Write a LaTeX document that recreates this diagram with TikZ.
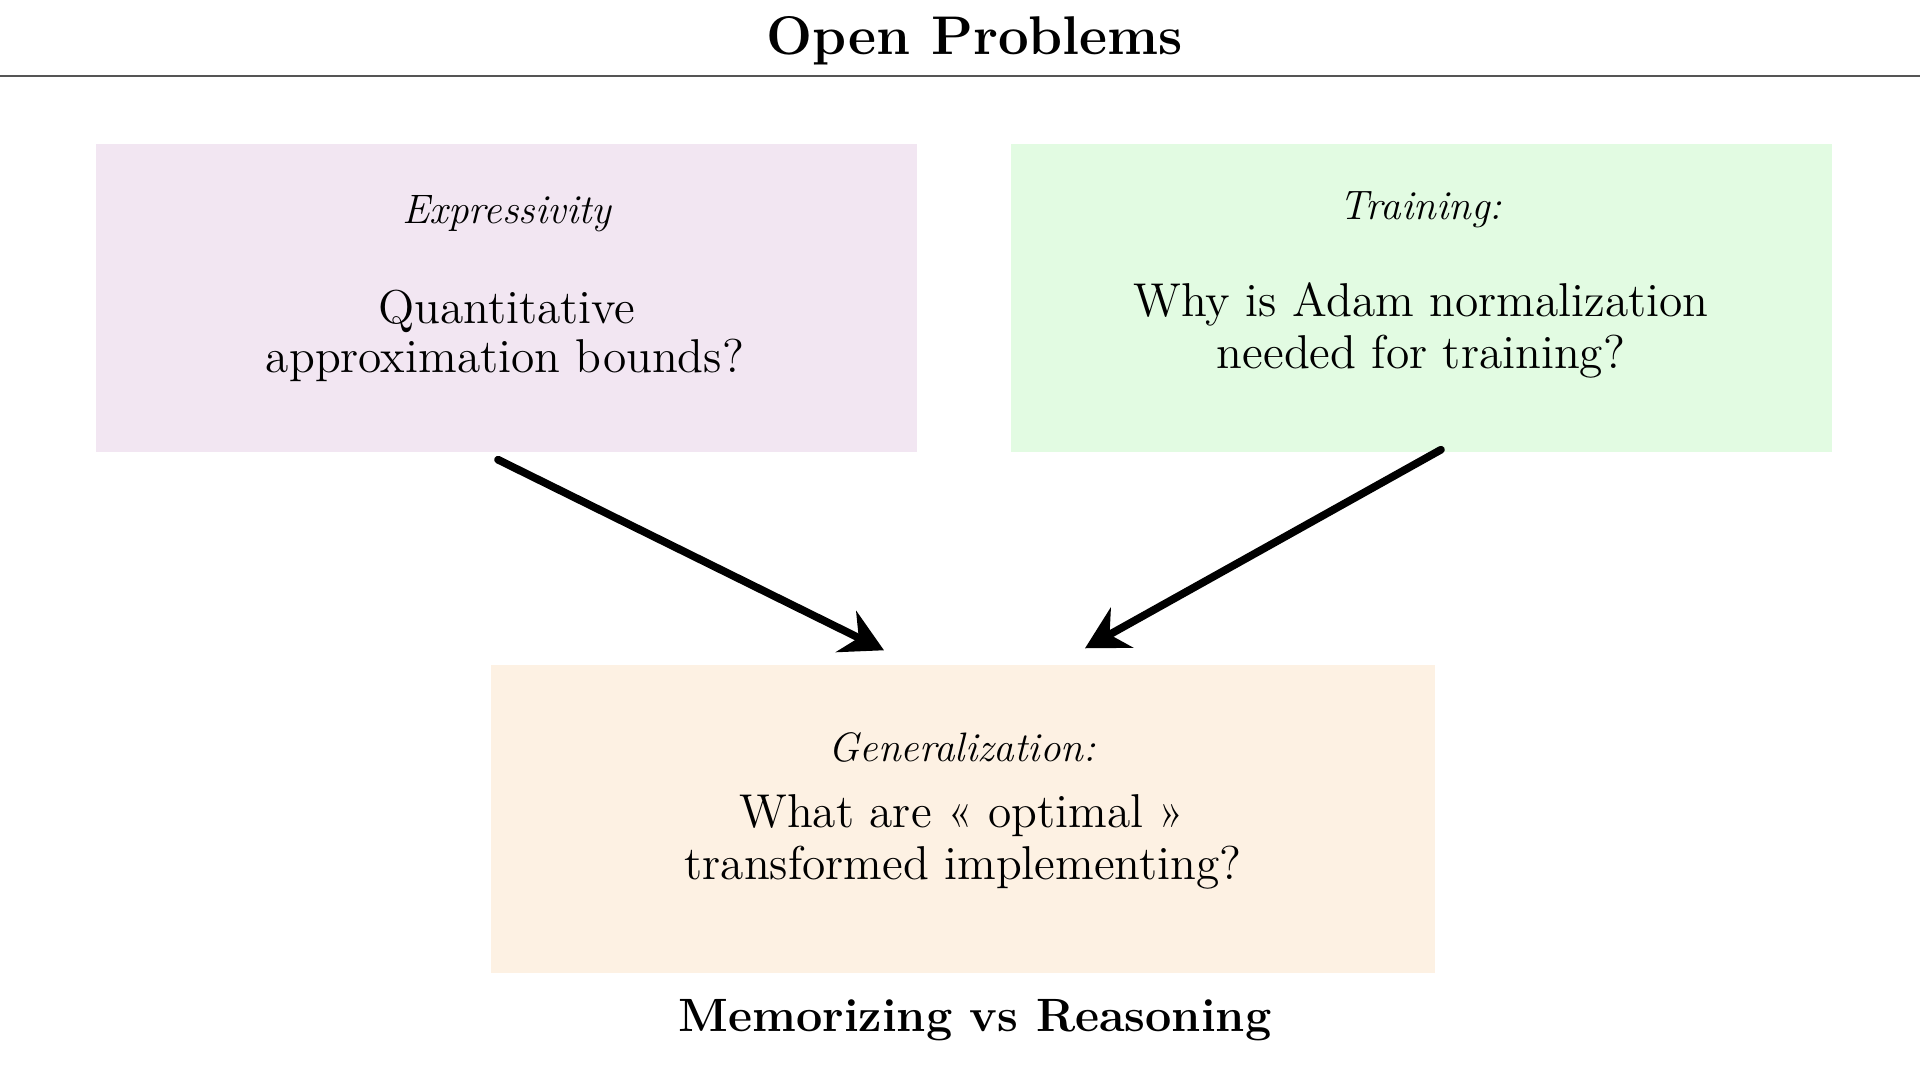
\documentclass[tikz,border=0pt]{standalone}
\usepackage{tikz}
\usetikzlibrary{
    positioning,
    arrows.meta,
    calc,
}
\definecolor{exprfill}{HTML}{F2E6F2}
\definecolor{trainfill}{HTML}{E2FBE2}
\definecolor{genfill}{HTML}{FDF1E3}
\definecolor{rulegray}{HTML}{555555}
\tikzset{
    % Box styles
    problem box/.style={rectangle, inner sep=0pt, minimum width=821*0.01cm,
                        minimum height=308*0.01cm},
    % Text styles
    topic/.style={anchor=base, font=\fontsize{11.7}{14}\selectfont\itshape},
    question/.style={anchor=base, font=\fontsize{13.5}{15}\selectfont},
    heading/.style={anchor=base, font=\fontsize{15.5}{18}\selectfont\bfseries},
    % Arrow styles
    chalk arrow/.style={-{Stealth[length=12pt, width=13pt, inset=4pt]},
                        line width=2.2pt, line cap=round},
}

\begin{document}
\begin{tikzpicture}[x=0.01cm, y=-0.01cm]
    \useasboundingbox (0,0) rectangle (1920,1080);

    % Title
    \node[heading] (title) at (975,55) {Open Problems};
    \coordinate (ruleL) at (0,76);
    \coordinate (ruleR) at (1920,76);
    \draw[rulegray, line width=0.8pt] (ruleL) -- (ruleR);

    % Boxes
    \node[problem box, fill=exprfill] (expr) at (506,298) {};
    \node[problem box, fill=trainfill] (train) at (1421,298) {};
    \node[problem box, fill=genfill, minimum width=944*0.01cm] (gen) at (963,819) {};

    % Texts
    \node[topic] (exprT) at (507,224) {Expressivity};
    \node[question] (exprQ1) at (507,324) {Quantitative};
    \node[question] (exprQ2) at (505,373) {approximation bounds?};

    \node[topic] (trainT) at (1421,220) {Training:};
    \node[question] (trainQ1) at (1421,317) {Why is Adam normalization};
    \node[question] (trainQ2) at (1421,369) {needed for training?};

    \node[topic] (genT) at (962,762) {Generalization:};
    \node[question] (genQ1) at (962,828) {What are \guillemotleft{} optimal \guillemotright};
    \node[question] (genQ2) at (963,880) {transformed implementing?};

    \node[heading, font=\fontsize{13.3}{16}\selectfont\bfseries] (memo) at (975,1032) {Memorizing vs Reasoning};

    % Arrows
    \coordinate (exprOut) at ($(expr.south)+(-8,7)$);
    \coordinate (genInL) at ($(gen.north)+(-79,-14)$);
    \coordinate (trainOut) at ($(train.south)+(20,-3)$);
    \coordinate (genInR) at ($(gen.north)+(122,-16)$);
    \draw[chalk arrow] (exprOut) -- (genInL);
    \draw[chalk arrow] (trainOut) -- (genInR);
\end{tikzpicture}
\end{document}
